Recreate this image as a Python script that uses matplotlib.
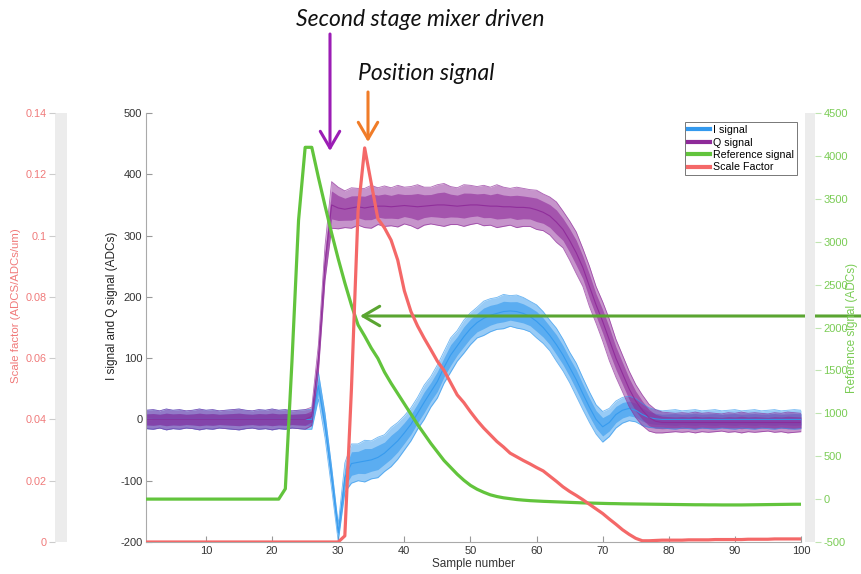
import matplotlib
matplotlib.use("Agg")
import matplotlib.pyplot as plt
from matplotlib.lines import Line2D
import numpy as np

# ---------------- data ----------------
sample = list(range(1, 101))

ref_signal = [0]*21 + [
    120, 1600, 3250, 4100, 4100, 3750, 3420, 3100, 2800,          # 22-30
    2520, 2260, 2030, 1900, 1760, 1640, 1480, 1350, 1230, 1110,   # 31-40
    990, 870, 760, 650, 550, 450, 370, 290, 220, 160,             # 41-50
    115, 80, 50, 30, 15, 5, -5, -12, -18, -22,                    # 51-60
    -26, -29, -32, -35, -38, -41, -44, -46, -48, -50,             # 61-70
    -52, -53, -55, -56, -57, -58, -59, -60, -61, -62,             # 71-80
    -63, -64, -65, -66, -66, -67, -67, -68, -68, -68,             # 81-90
    -68, -67, -66, -65, -64, -63, -62, -61, -60, -60]             # 91-100

scale_factor = [0.0]*30 + [
    0.002, 0.050, 0.108, 0.1286, 0.117, 0.1055, 0.1025, 0.0985, 0.092, 0.082,   # 31-40
    0.0752, 0.0705, 0.0665, 0.0628, 0.059, 0.056, 0.052, 0.048, 0.0455, 0.0425, # 41-50
    0.0397, 0.0372, 0.035, 0.0328, 0.031, 0.029, 0.0278, 0.0266, 0.0255, 0.0243,# 51-60
    0.0232, 0.0215, 0.0198, 0.018, 0.0165, 0.0152, 0.0138, 0.0123, 0.0108, 0.0093, # 61-70
    0.0075, 0.0058, 0.004, 0.0025, 0.0012, 0.0004, 0.0004, 0.0005, 0.0006, 0.0006, # 71-80
    0.0006, 0.0006, 0.0007, 0.0007, 0.0007, 0.0007, 0.0008, 0.0008, 0.0008, 0.0008, # 81-90
    0.0008, 0.0009, 0.0009, 0.0009, 0.0009, 0.001, 0.001, 0.001, 0.001, 0.001]     # 91-100

q_mean = [0]*25 + [
    5, 100, 255, 350, 345, 343, 345, 347, 345, 347,               # 26-35
    348, 348, 347, 348, 349, 348, 347, 348, 349, 350,             # 36-45
    350, 349, 348, 349, 350, 350, 349, 348, 348, 347,             # 46-55
    347, 346, 346, 345, 342, 338, 332, 322, 310, 292,             # 56-65
    272, 248, 217, 187, 160, 130, 100, 75, 50, 30,                # 66-75
    15, 3, -3, -5, -5, -5, -5, -5, -5, -5,                        # 76-85
    -5, -5, -5, -5, -5, -5, -5, -5, -5, -5, -5, -5, -5, -5, -5]   # 86-100
q_spread = [15, 16, 14, 17, 15, 16, 14, 15, 17, 15, 16, 14, 15, 16, 17,
            15, 14, 16, 15, 17, 15, 16, 14, 15, 16,                # 1-25
            15, 22, 28, 38, 34, 30, 33, 30, 32, 35,                # 26-35
            30, 33, 31, 34, 30, 32, 36, 31, 30, 33,                # 36-45
            35, 31, 30, 34, 32, 30, 33, 31, 35, 32,                # 46-55
            30, 33, 31, 30, 32, 30, 31, 33, 30, 32,                # 56-65
            34, 31, 33, 30, 32, 34, 31, 30, 29, 27,                # 66-75
            25, 22, 19, 17, 16, 15, 16, 15, 17, 15,                # 76-85
            16, 15, 14, 16, 15, 17, 15, 16, 15, 14, 16, 15, 17, 16, 15]

i_mean = [0]*26 + [
    55, -10, -95, -185, -95, -72, -70, -68, -66, -62,             # 27-36
    -55, -45, -35, -22, -8, 10, 28, 45, 62, 85,                   # 37-46
    105, 120, 135, 148, 158, 165, 170, 173, 176, 177,             # 47-56
    176, 173, 168, 160, 150, 137, 122, 105, 85, 65,               # 57-66
    42, 20, 0, -12, -5, 8, 15, 18, 15, 8,                         # 67-76
    3, 1, 0, 0, 0, 0, 0, 0, 0, 0, 0, 0, 0, 0,                     # 77-90
    0, 0, 0, 0, 0, 0, 0, 0, 0, 0]                                 # 91-100
i_spread = [15, 16, 14, 17, 15, 16, 14, 15, 17, 15, 16, 14, 15, 16, 17,
            15, 14, 16, 15, 17, 15, 16, 14, 15, 16, 16,            # 1-26
            22, 20, 18, 14, 24, 32, 30, 34, 31, 33,                # 27-36
            30, 32, 30, 28, 27, 26, 28, 25, 27, 26,                # 37-46
            28, 25, 27, 26, 25, 28, 27, 26, 28, 25,                # 47-56
            27, 26, 25, 27, 26, 25, 27, 26, 25, 27,                # 57-66
            26, 25, 24, 25, 23, 22, 21, 20, 19, 18,                # 67-76
            16, 15, 14, 15, 16, 14, 15, 16, 14, 15,                # 77-86
            16, 14, 15, 16, 14, 15, 16, 14, 15, 16, 14, 15, 16, 15]

main_yticks = [-200, -100, 0, 100, 200, 300, 400, 500]
main_xticks = [10, 20, 30, 40, 50, 60, 70, 80, 90, 100]
scale_ticks = [0, 0.02, 0.04, 0.06, 0.08, 0.10, 0.12, 0.14]
scale_ticklabels = ['0', '0.02', '0.04', '0.06', '0.08', '0.1', '0.12', '0.14']
ref_ticks = [-500, 0, 500, 1000, 1500, 2000, 2500, 3000, 3500, 4000, 4500]
legend_labels = ['I signal', 'Q signal', 'Reference signal', 'Scale Factor']

# ---------------- style ----------------
C_I = '#3399ee'
C_Q = '#8e2a99'
C_REF = '#62c43c'
C_SF = '#f46868'
C_SF_TXT = '#f07a7a'
C_REF_TXT = '#7acc55'
FONT = 'Liberation Sans'
plt.rcParams['font.family'] = [FONT, 'DejaVu Sans']
plt.rcParams['axes.unicode_minus'] = False

W, H = 862, 574
fig = plt.figure(figsize=(W/100, H/100), dpi=100)
def fx(px): return px / W
def fy(py): return 1 - py / H

L, R, T, B = 146.5, 801, 113, 542
ax = fig.add_axes([fx(L), fy(B), (R - L)/W, (B - T)/H])
ax.set_xlim(1, 100)
ax.set_ylim(-200, 500)

x = np.array(sample)
im, isp = np.array(i_mean), np.array(i_spread)
qm, qsp = np.array(q_mean), np.array(q_spread)

def bundle(m, sp, c):
    ax.fill_between(x, m - sp, m + sp, color=c, alpha=0.5, lw=0)
    ax.fill_between(x, m - 0.6*sp, m + 0.6*sp, color=c, alpha=0.6, lw=0)
    ax.plot(x, m + sp, color=c, lw=0.6, alpha=0.7)
    ax.plot(x, m - sp, color=c, lw=0.6, alpha=0.7)
    ax.plot(x, m, color=c, lw=0.8, alpha=0.9)

bundle(im, isp, C_I)
bundle(qm, qsp, C_Q)

ax.set_yticks(main_yticks)
ax.set_xticks(main_xticks)
ax.tick_params(direction='in', length=4, width=0.8, color='#999999',
               labelsize=8, labelcolor='#333333', pad=3)
for s in ['top', 'right']:
    ax.spines[s].set_visible(False)
for s in ['left', 'bottom']:
    ax.spines[s].set_color('#aaaaaa')
    ax.spines[s].set_linewidth(0.8)
ax.set_xlabel('Sample number', fontsize=8.5, color='#333333', labelpad=1)
ax.set_ylabel('I signal and Q signal (ADCs)', fontsize=8.5, color='#222222')
ax.yaxis.set_label_coords(-0.043, 0.55)

# reference signal on its own scale
ax_ref = ax.twinx()
ax_ref.set_ylim(-500, 4500)
ax_ref.plot(x, ref_signal, color=C_REF, lw=2.3, solid_joinstyle='round')
ax_ref.axis('off')

# scale factor on its own scale
ax_sf = ax.twinx()
ax_sf.set_ylim(0, 0.14)
ax_sf.plot(x, scale_factor, color=C_SF, lw=2.3, solid_joinstyle='round')
ax_sf.axis('off')

# outer left axis (scale factor)
ax_l = fig.add_axes([fx(55), fy(B), 12/W, (B - T)/H], facecolor='#ececec')
ax_l.set_ylim(0, 0.14)
ax_l.set_xticks([])
ax_l.set_yticks(scale_ticks)
ax_l.set_yticklabels(scale_ticklabels)
for s in ax_l.spines.values():
    s.set_visible(False)
ax_l.tick_params(axis='y', direction='out', length=4, color='#cccccc',
                 labelsize=7.8, labelcolor=C_SF_TXT, pad=2)
ax_l.set_ylabel('Scale factor (ADCS/ADCs/um)', fontsize=8.2, color=C_SF_TXT)
ax_l.yaxis.set_label_coords(-2.8, 0.55)

# outer right axis (reference)
ax_rr = fig.add_axes([fx(805), fy(B), 10/W, (B - T)/H], facecolor='#ececec')
ax_rr.set_ylim(-500, 4500)
ax_rr.set_xticks([])
ax_rr.yaxis.tick_right()
ax_rr.set_yticks(ref_ticks)
for s in ax_rr.spines.values():
    s.set_visible(False)
ax_rr.tick_params(axis='y', direction='out', length=4, color='#bfe3b0',
                  labelsize=8, labelcolor=C_REF_TXT, pad=2)
ax_rr.yaxis.set_label_position('right')
ax_rr.set_ylabel('Reference signal (ADCs)', fontsize=8.5, color=C_REF_TXT)
ax_rr.yaxis.set_label_coords(4.1, 0.5)

# legend
handles = [Line2D([], [], color=c, lw=3) for c in (C_I, C_Q, C_REF, C_SF)]
leg = fig.legend(handles, legend_labels, loc='upper right',
                 bbox_to_anchor=(fx(797), fy(122)), bbox_transform=fig.transFigure,
                 fontsize=7.7, handlelength=2.0, handletextpad=0.3,
                 labelspacing=0.22, borderpad=0.3, borderaxespad=0,
                 fancybox=False, framealpha=1, edgecolor='#777777')
leg.get_frame().set_linewidth(0.7)

# annotations
ann_font = dict(family=['Lato', 'Open Sans', 'DejaVu Sans'], style='italic', fontsize=16.5, color='#111111')
fig.text(fx(420), fy(19), 'Second stage mixer driven', ha='center', va='center', **ann_font)
fig.text(fx(426), fy(73), 'Position signal', ha='center', va='center', **ann_font)

def arrow(tip, tail, color, lw=2.2):
    ax.annotate('', xy=(tip[0], H - tip[1]), xycoords='figure pixels',
                xytext=(tail[0], H - tail[1]), textcoords='figure pixels',
                annotation_clip=False,
                arrowprops=dict(arrowstyle='->,head_length=0.6,head_width=0.35',
                                mutation_scale=20, color=color, lw=lw,
                                shrinkA=0, shrinkB=0))

arrow((330, 151), (330, 34), '#9b1db5')
arrow((368, 142), (368, 92), '#f07c28')
arrow((360, 316), (900, 316), '#5aa531')

fig.savefig('out.png', dpi=100)
